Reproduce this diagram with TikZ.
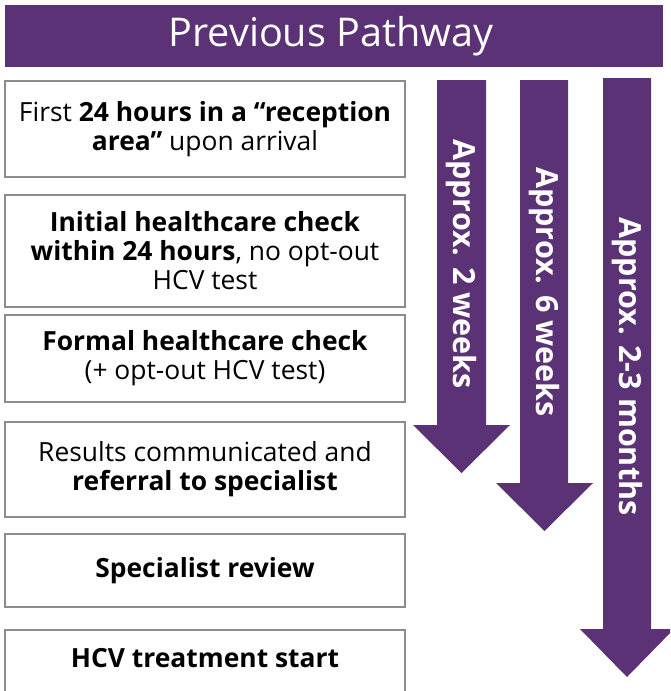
\documentclass[tikz,border=0pt]{standalone}
\usepackage{fontspec}
\setmainfont{Open Sans}
\definecolor{pathpurple}{HTML}{5A3275}
\definecolor{boxgray}{HTML}{8C8C8C}
\begin{document}
\begin{tikzpicture}[x=1pt,y=-1pt,
  stage/.style={draw=boxgray, line width=2pt, fill=white, inner sep=0pt,
    minimum width=400pt, align=center, text=black,
    font=\fontsize{26.4}{29}\selectfont},
  stagetext/.style={inner sep=0pt, align=center, text=black,
    font=\fontsize{26.4}{29}\selectfont},
  boxline/.style={draw=boxgray, line width=2pt},
  span/.style={font=\bfseries\fontsize{30.5}{34}\selectfont, text=white,
    rotate=-90, inner sep=0pt},
]
\useasboundingbox (0,0) rectangle (670,691);
\clip (0,0) rectangle (670,691);

% title bar
\fill[pathpurple] (5,5) rectangle (663,67);
\node[font=\fontsize{39.6}{44}\selectfont, text=white] (title) at (331,36) {Previous Pathway};

% pathway stages
\node[stage, minimum height=96pt] (b1) at (205,129)
  {First \textbf{24 hours in a “reception}\\\textbf{area”} upon arrival};
\node[stage, minimum height=112pt] (b2) at (205,251)
  {\textbf{Initial healthcare check}\\\textbf{within 24 hours}, no opt-out\\HCV test};
\node[stage, minimum height=87pt] (b3) at (205,358.5)
  {\textbf{Formal healthcare check}\\(+ opt-out HCV test)};
\node[stage, minimum height=95pt] (b4) at (205,469.5)
  {Results communicated and\\\textbf{referral to specialist}};
\node[stage, minimum height=73pt] (b5) at (205,570.5)
  {\textbf{Specialist review}};
\draw[boxline] (5,710) |- (405,630) -- (405,710);
\node[stagetext] (b6) at (205,658) {\textbf{HCV treatment start}};

% duration arrows
\fill[pathpurple] (437,80) -- (486,80) -- (486,425) -- (510,425)
  -- (461.5,473) -- (413,425) -- (437,425) -- cycle;
\fill[pathpurple] (520,80) -- (568,80) -- (568,483) -- (593,483)
  -- (544.5,531) -- (496,483) -- (520,483) -- cycle;
\fill[pathpurple] (603,78) -- (651,78) -- (651,629) -- (674,629)
  -- (627,677) -- (580,629) -- (603,629) -- cycle;

\node[span] (t1) at (461.5,264) {Approx. 2 weeks};
\node[span] (t2) at (544,292) {Approx. 6 weeks};
\node[span] (t3) at (627,366.5) {Approx. 2-3 months};
\end{tikzpicture}
\end{document}
